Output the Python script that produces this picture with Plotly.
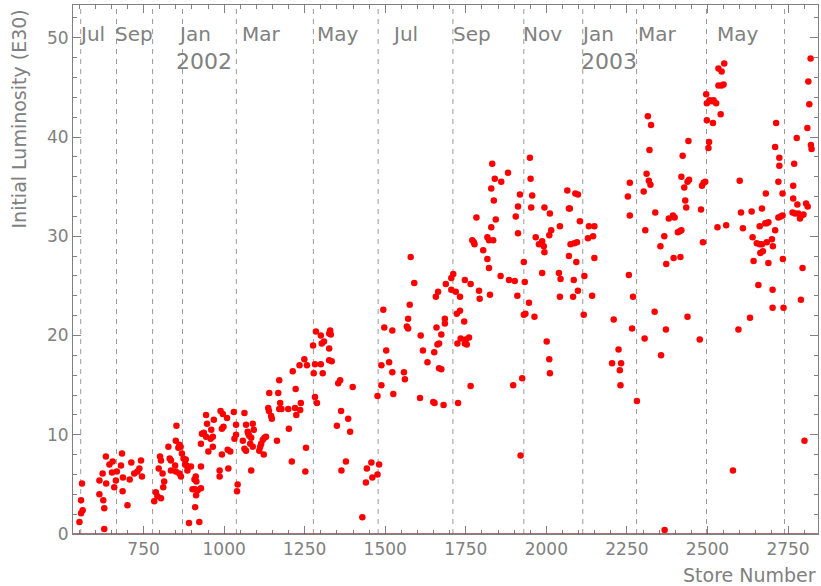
import plotly.graph_objects as go

# store number / initial luminosity (E30)
store_number = [
    551, 556, 556, 559, 561, 613, 613, 623, 625, 628, 628, 633, 634, 644, 652, 654, 659, 664, 667, 680,
    683, 685, 686, 700, 707, 712, 721, 731, 737, 742, 745, 783, 788, 793, 797, 801, 804, 804, 809, 811,
    814, 827, 831, 835, 835, 848, 850, 850, 852, 858, 861, 861, 865, 866, 869, 874, 879, 881, 883, 886,
    891, 897, 902, 908, 910, 910, 912, 913, 914, 918, 923, 928, 928, 928, 931,
    937, 944, 944, 947, 951, 958, 960, 965, 965, 968, 986, 986, 989, 993, 993, 996, 998, 1009, 1011,
    1013, 1019, 1030, 1032, 1037, 1037, 1040, 1042, 1058, 1063, 1063, 1068, 1068, 1073, 1075, 1078,
    1081, 1084, 1084, 1089, 1089, 1092, 1109, 1112, 1115, 1120, 1123, 1125, 1130, 1137, 1139, 1140,
    1146, 1148, 1164, 1168, 1171, 1171, 1174, 1178, 1199, 1201, 1210, 1213, 1220, 1222, 1224, 1234,
    1236, 1238, 1249, 1252, 1254, 1257, 1276, 1278, 1282, 1282, 1285, 1288, 1300, 1300, 1303, 1306,
    1310,
    1326, 1326, 1326, 1329, 1331, 1334, 1350, 1354, 1360, 1363, 1364, 1378, 1385, 1391, 1399, 1429,
    1440, 1443, 1457, 1460, 1476, 1476, 1481, 1488, 1488, 1494, 1497, 1503, 1512, 1522, 1522, 1525,
    1558, 1561, 1567, 1571, 1571, 1576, 1579, 1590, 1608, 1610, 1617, 1631, 1649, 1652, 1653, 1657,
    1659, 1662, 1664, 1667, 1667, 1674, 1674, 1681, 1685, 1685, 1688,
    1705, 1705, 1711, 1719, 1722, 1724, 1726, 1732, 1732, 1734, 1745, 1747, 1747, 1750, 1753, 1760,
    1765, 1765, 1770, 1775, 1777, 1783, 1791, 1793, 1804, 1817, 1817, 1822, 1822, 1825, 1829, 1829,
    1832, 1835, 1837, 1840, 1843, 1858, 1860, 1881, 1884, 1897, 1902, 1905, 1910, 1912, 1912, 1918,
    1920, 1925, 1930, 1930, 1933, 1935, 1946, 1949, 1951, 1953, 1956, 1963, 1967, 1977, 1987, 1987,
    1992, 1994, 1994, 2001, 2009, 2009, 2011, 2011, 2015, 2039, 2042, 2042, 2044, 2065, 2070, 2070,
    2073, 2075, 2083, 2085, 2087, 2090, 2093, 2095, 2098, 2098, 2104,
    2116, 2118, 2129, 2132, 2142, 2145, 2149, 2149, 2204, 2209, 2224, 2228, 2230, 2232, 2253, 2256,
    2259, 2259, 2266, 2269, 2281, 2302, 2305, 2307, 2311, 2315, 2318, 2320, 2323, 2325, 2336, 2338,
    2354, 2356, 2366, 2367, 2371, 2372, 2380, 2393, 2395, 2398, 2408, 2414, 2416, 2419, 2419, 2423,
    2428, 2431, 2434, 2438, 2438, 2441, 2443,
    2476, 2480, 2483, 2486, 2488, 2493, 2496, 2498, 2498, 2503, 2505, 2507, 2514, 2517, 2519, 2527,
    2531, 2534, 2534, 2541, 2544, 2544, 2550, 2552, 2558, 2579, 2596, 2600, 2604, 2610, 2632, 2637,
    2640, 2643, 2653, 2658, 2662, 2662, 2664, 2669, 2669, 2672, 2679, 2681, 2684, 2684, 2689, 2689,
    2700, 2702, 2702, 2703, 2710, 2710, 2713, 2720, 2720, 2723, 2723, 2727, 2733, 2733, 2734, 2736,
    2764, 2766, 2766, 2769, 2772, 2777, 2779, 2782, 2787, 2790, 2792, 2795, 2798, 2801, 2806, 2810,
    2811, 2813, 2816, 2820, 2821, 2823,
]
luminosity = [
    1.2, 3.4, 2.1, 5.1, 2.4, 5.4, 4.0, 6.1, 3.4, 2.6, 0.5, 7.8, 5.1, 7.0, 6.2, 7.3, 4.7, 5.4, 6.3, 6.9,
    8.1, 4.3, 5.7, 2.9, 5.5, 7.2, 6.1, 6.3, 6.6, 7.4, 5.8, 3.3, 4.2, 3.8, 6.6, 7.8, 7.4, 3.6, 6.1, 4.7,
    5.3, 8.8, 7.6, 7.4, 6.4, 6.9, 9.4, 6.3, 10.9, 8.7, 9.0, 6.1, 8.8, 5.8, 8.1, 7.6, 7.0, 7.5, 6.9, 6.4,
    1.1, 6.8, 4.5, 5.5, 4.5, 2.7, 5.8, 3.9, 5.3, 4.4, 1.2, 9.1, 6.8, 4.6, 10.1,
    10.2, 12.0, 9.8, 11.1, 8.3, 9.6, 10.5, 9.8, 8.8, 11.5, 6.4, 5.8, 12.4, 10.6, 8.0, 12.1, 10.8, 11.7, 8.5,
    6.6, 8.3, 12.3, 9.6, 11.0, 10.0, 4.3, 5.0, 9.4, 12.2, 8.6, 11.0, 8.4, 10.3, 10.1, 9.9,
    9.1, 9.7, 6.4, 11.1, 8.8, 10.5, 8.4, 8.8, 9.1, 9.5, 8.0, 9.7, 9.8, 12.7, 12.4, 14.2,
    11.9, 11.6, 9.4, 14.2, 15.5, 12.6, 13.2, 12.6, 12.6, 10.6, 7.3, 16.4, 12.7, 14.6, 12.0, 17.0,
    12.5, 13.2, 17.6, 6.3, 8.7, 17.0, 19.0, 16.2, 17.1, 13.8, 20.4, 13.2, 17.1, 20.0, 19.2, 16.2,
    19.4,
    20.2, 18.7, 17.5, 20.5, 20.1, 17.4, 10.9, 15.2, 15.5, 12.4, 6.4, 7.3, 11.6, 10.3, 14.8, 1.7,
    5.2, 6.6, 7.2, 5.7, 6.0, 13.9, 7.0, 15.0, 17.0, 22.6, 20.8, 18.5, 17.3, 16.3, 20.5, 14.1,
    16.3, 15.6, 20.9, 20.7, 21.7, 23.1, 27.9, 25.3, 13.7, 20.0, 18.5, 17.3, 13.3, 18.3, 13.2, 23.9,
    20.8, 19.1, 24.4, 19.2, 16.7, 20.1, 16.6, 13.0, 21.7, 21.2, 25.2,
    25.8, 24.6, 26.2, 24.4, 22.2, 19.2, 13.2, 23.9, 22.5, 19.7, 21.4, 25.6, 19.2, 19.6, 19.1, 19.8,
    25.2, 14.9, 29.6, 29.4, 29.2, 31.9, 24.5, 23.7, 28.6, 27.7, 29.9, 26.8, 29.6, 24.1, 30.9, 34.8,
    37.3, 29.6, 33.6, 35.8, 31.7, 26.0, 35.5, 36.4, 25.6, 15.0, 25.5, 32.0, 24.0, 33.0, 30.3, 34.2,
    7.9, 15.7, 27.4, 22.1, 25.4, 22.2, 23.3, 37.9, 35.8, 32.9, 34.1, 21.9, 29.9, 29.2, 29.5, 26.3,
    29.0, 28.4, 32.9, 19.4, 30.1, 17.6, 32.3, 16.2, 30.6, 26.3, 31.0, 23.9, 25.7, 34.6, 32.8, 28.0,
    32.8, 29.2, 23.9, 25.6, 29.3, 34.3, 27.4, 29.4, 34.2, 24.5, 31.5,
    22.1, 26.0, 29.8, 31.0, 24.0, 30.0, 31.0, 27.8, 17.2, 21.6, 18.6, 16.5, 15.0, 17.2, 34.0, 26.1,
    35.4, 32.1, 20.7, 23.9, 13.4, 34.5, 19.7, 30.6, 36.3, 42.1, 35.6, 38.7, 35.2, 41.2, 22.4, 32.4,
    29.0, 18.0, 30.0, 0.4, 20.6, 27.2, 31.8, 32.1, 27.8, 31.9, 30.4, 30.5, 27.9, 30.6, 36.0, 38.1,
    34.9, 33.6, 32.9, 35.5, 21.9, 39.6, 35.7,
    19.6, 32.7, 35.1, 29.4, 35.4, 35.5, 44.3, 43.4, 41.7, 38.9, 39.5, 43.7, 43.6, 41.4, 43.7, 43.4,
    30.9, 46.9, 45.2, 42.3, 46.6, 45.2, 45.3, 47.4, 31.1, 6.4, 20.6, 35.6, 32.4, 30.8, 21.8, 32.5,
    29.9, 27.5, 29.3, 25.1, 29.2, 31.0, 28.3, 29.2, 32.8, 28.5, 31.3, 34.3, 31.3, 29.4, 31.4, 27.3,
    29.7, 24.6, 22.8, 29.0, 30.6, 39.0, 41.4, 35.5, 31.9, 37.9, 37.1, 32.0, 32.1, 34.3, 27.7, 22.8,
    32.4, 33.8, 35.1, 37.3, 32.3, 39.9, 33.2, 32.3, 31.8, 23.6, 32.1, 26.8, 32.2, 9.4, 33.3, 40.9,
    33.0, 45.6, 43.3, 47.9, 39.2, 38.8,
]

# month boundaries (store number) and labels
month_lines = [555, 666, 778, 871, 1038, 1277, 1478, 1710, 1930, 2113, 2280, 2497, 2739]
month_names = ["Jul", "Sep", "Jan", "Mar", "May", "Jul", "Sep", "Nov", "Jan", "Mar", "May"]
month_label_pos = [555, 666, 862, 1063, 1295, 1527, 1716, 1933, 2113, 2290, 2535]
year_names = ["2002", "2003"]
year_label_pos = [855, 2110]

GRAY = "#808080"
FONT = "DejaVu Sans"

fig = go.Figure()
fig.add_trace(go.Scatter(
    x=store_number, y=luminosity, mode="markers",
    marker=dict(size=6.5, color="#ff0000", line=dict(width=0)),
    showlegend=False,
))

for xs in month_lines:
    fig.add_shape(type="line", xref="x", yref="paper", x0=xs, x1=xs, y0=0, y1=1,
                  line=dict(color="#9a9a9a", width=1, dash="5px,5px"), layer="below")

# bottom axis line is a brownish red in the original
fig.add_shape(type="line", xref="paper", yref="y", x0=0, x1=1, y0=0, y1=0,
              line=dict(color="#8a4a4a", width=1.5))

annotations = []
for name, xp in zip(month_names, month_label_pos):
    annotations.append(dict(x=xp, y=0.945, xref="x", yref="paper", text=name, showarrow=False,
                            xanchor="left", yanchor="middle", xshift=-4,
                            font=dict(family=FONT, size=20, color=GRAY)))
for name, xp in zip(year_names, year_label_pos):
    annotations.append(dict(x=xp, y=0.894, xref="x", yref="paper", text=name, showarrow=False,
                            xanchor="left", yanchor="middle", xshift=-3,
                            font=dict(family=FONT, size=22, color=GRAY)))
annotations.append(dict(x=1.0, y=-0.078, xref="paper", yref="paper", text="Store Number", showarrow=False,
                        xanchor="right", yanchor="middle", font=dict(family=FONT, size=19, color=GRAY)))
annotations.append(dict(x=-0.072, y=0.995, xref="paper", yref="paper", text="Initial Luminosity (E30)",
                        showarrow=False, textangle=-90, xanchor="center", yanchor="top",
                        font=dict(family=FONT, size=19, color=GRAY)))

fig.update_layout(
    width=821, height=586,
    margin=dict(l=73, r=3, t=5, b=52),
    paper_bgcolor="white", plot_bgcolor="white",
    annotations=annotations,
    xaxis=dict(
        range=[531, 2843], tickmode="linear", tick0=0, dtick=250,
        ticks="inside", ticklen=8, tickcolor=GRAY, showline=True, linecolor=GRAY, mirror="ticks",
        showgrid=False, zeroline=False,
        tickfont=dict(family=FONT, size=17, color=GRAY),
        minor=dict(dtick=50, tick0=0, ticks="inside", ticklen=4, tickcolor=GRAY, showgrid=False),
    ),
    yaxis=dict(
        range=[0, 53.3], tickmode="linear", tick0=0, dtick=10,
        ticks="inside", ticklen=8, tickcolor=GRAY, showline=True, linecolor=GRAY, mirror="ticks",
        showgrid=False, zeroline=False,
        tickfont=dict(family=FONT, size=17, color=GRAY),
        minor=dict(dtick=2, tick0=0, ticks="inside", ticklen=4, tickcolor=GRAY, showgrid=False),
    ),
)

# drop the default page margin so the figure sits at the window's top-left corner
fig.write_html("out.html", config={"displayModeBar": False},
               post_script="document.body.style.margin='0';")
